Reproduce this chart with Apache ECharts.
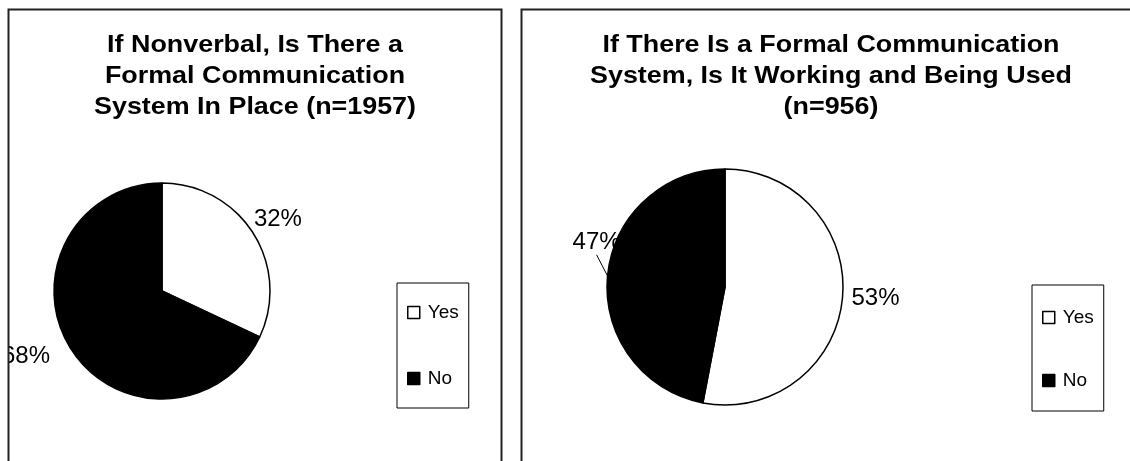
<!DOCTYPE html>
<html>
<head>
<meta charset="utf-8">
<script src="https://cdn.jsdelivr.net/npm/echarts@6/dist/echarts.min.js"></script>
<style>
  html, body { margin: 0; padding: 0; background: #fff; }
  #chart { width: 1130px; height: 461px; }
</style>
</head>
<body>
<div id="chart"></div>
<script>
// Answer categories shared by both pies
const categories = ['Yes', 'No'];

// Left pie: nonverbal respondents with a formal communication system (n=1957)
const systemInPlaceTitle = 'If Nonverbal, Is There a\nFormal Communication\nSystem In Place (n=1957)';
const systemInPlacePct = [32, 68];

// Right pie: formal systems that are working and being used (n=956)
const systemWorkingTitle = 'If There Is a Formal Communication\nSystem, Is It Working and Being Used\n(n=956)';
const systemWorkingPct = [53, 47];

const FONT = '"Liberation Sans", Arial, sans-serif';
const sliceColors = ['#ffffff', '#000000'];

function pieData(values, labelLines) {
  return categories.map((name, i) => ({
    name,
    value: values[i],
    itemStyle: { color: sliceColors[i], borderColor: '#000', borderWidth: 1.5 },
    labelLine: labelLines[i]
  }));
}

const leftData = pieData(systemInPlacePct, [
  { show: false, length: 2, length2: 0 },
  { show: false, length: 14, length2: 10 }
]);
const rightData = pieData(systemWorkingPct, [
  { show: false, length: 4, length2: 0 },
  { show: true, length: 12, length2: 0, lineStyle: { color: '#000', width: 1 } }
]);

function legendFor(left, top, gap, padTop, padBottom) {
  return {
    data: categories,
    orient: 'vertical',
    left, top,
    padding: [padTop, 10, padBottom, 10],
    itemGap: gap,
    itemWidth: 12,
    itemHeight: 12,
    icon: 'rect',
    borderColor: '#000',
    borderWidth: 1,
    borderRadius: 0,
    selectedMode: false,
    itemStyle: { borderColor: '#000', borderWidth: 1.5 },
    textStyle: { fontFamily: FONT, fontSize: 19, color: '#000', padding: [0, 0, 0, 3] }
  };
}

// Panel headings: bold, three centred lines, slightly widened
function heading(text, centerX) {
  return {
    type: 'text',
    x: centerX,
    y: 30,
    scaleX: 1.12,
    silent: true,
    style: {
      text,
      fill: '#000',
      fontFamily: FONT,
      fontSize: 24,
      fontWeight: 'bold',
      lineHeight: 31,
      align: 'center',
      verticalAlign: 'top'
    }
  };
}

const labelBase = {
  position: 'outside',
  formatter: p => p.value + '%',
  fontFamily: FONT,
  fontSize: 24,
  color: '#000',
  overflow: 'none'
};

// Nudge the left pie's labels: "Yes" up a little, "No" towards the frame
function nudgeLeftLabels(p) {
  return p.dataIndex === 0 ? { dx: -6, dy: -13 } : { dx: 6 };
}

// Lift the "No" label of the right pie above its leader line,
// letting ECharts re-route the guide line to the moved label.
function liftRightNoLabel(p) {
  if (p.dataIndex !== 1) return {};
  const r = p.labelRect;
  return { x: r.x + r.width + 30, y: r.y + r.height / 2 - 32 };
}

const panelStroke = { fill: 'none', stroke: '#222', lineWidth: 2 };

const chart = echarts.init(document.getElementById('chart'), null, { renderer: 'canvas' });
chart.setOption({
  backgroundColor: '#fff',
  animation: false,
  graphic: [
    // left panel clips anything spilling past its frame
    { type: 'rect', shape: { x: 0, y: 0, width: 8, height: 461 }, style: { fill: '#fff' }, z: 100, silent: true },
    { type: 'rect', shape: { x: 8.5, y: 9.5, width: 493, height: 480 }, style: panelStroke, z: 101, silent: true },
    { type: 'rect', shape: { x: 521.5, y: 9.5, width: 640, height: 480 }, style: panelStroke, z: 101, silent: true },
    heading(systemInPlaceTitle, 255),
    heading(systemWorkingTitle, 831)
  ],
  legend: [
    legendFor(397, 283, 47, 20, 20),
    legendFor(1032, 285, 44, 23, 21)
  ],
  series: [
    {
      type: 'pie',
      center: [162, 291],
      radius: 108,
      startAngle: 90,
      clockwise: true,
      silent: true,
      label: labelBase,
      labelLine: { show: false },
      emphasis: { disabled: true },
      labelLayout: nudgeLeftLabels,
      data: leftData
    },
    {
      type: 'pie',
      center: [725, 287],
      radius: 118,
      startAngle: 90,
      clockwise: true,
      silent: true,
      label: labelBase,
      labelLine: { show: false },
      emphasis: { disabled: true },
      labelLayout: liftRightNoLabel,
      data: rightData
    }
  ]
});
</script>
</body>
</html>
